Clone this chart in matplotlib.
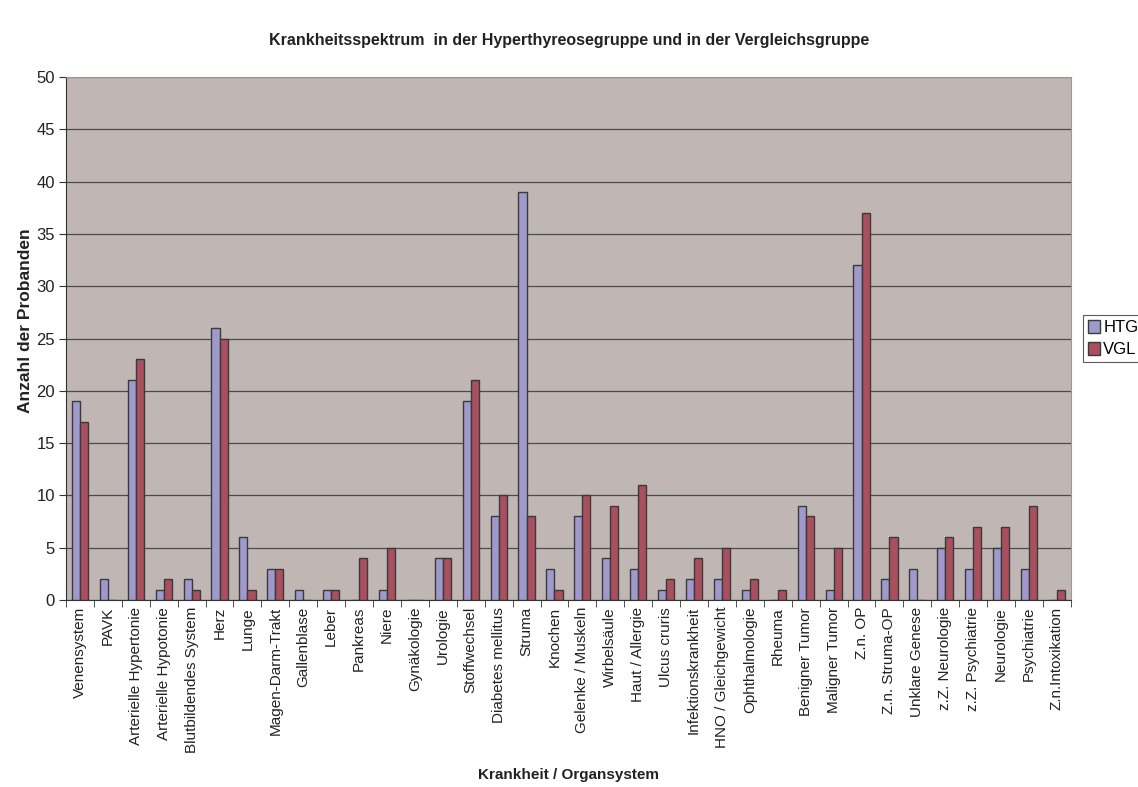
import numpy as np
import matplotlib
matplotlib.use("Agg")
import matplotlib.pyplot as plt

plt.rcParams["font.family"] = ["Liberation Sans", "DejaVu Sans"]

categories = ["Venensystem", "PAVK", "Arterielle Hypertonie", "Arterielle Hypotonie",
              "Blutbildendes System", "Herz", "Lunge", "Magen-Darm-Trakt", "Gallenblase",
              "Leber", "Pankreas", "Niere", "Gynäkologie", "Urologie", "Stoffwechsel",
              "Diabetes mellitus", "Struma", "Knochen", "Gelenke / Muskeln", "Wirbelsäule",
              "Haut / Allergie", "Ulcus cruris", "Infektionskrankheit", "HNO / Gleichgewicht",
              "Ophthalmologie", "Rheuma", "Benigner Tumor", "Maligner Tumor", "Z.n. OP",
              "Z.n. Struma-OP", "Unklare Genese", "z.Z. Neurologie", "z.Z. Psychiatrie",
              "Neurologie", "Psychiatrie", "Z.n.Intoxikation"]
htg = [19, 2, 21, 1, 2, 26, 6, 3, 1, 1, 0, 1, 0, 4, 19, 8, 39, 3, 8, 4, 3, 1, 2, 2, 1, 0,
       9, 1, 32, 2, 3, 5, 3, 5, 3, 0]
vgl = [17, 0, 23, 2, 1, 25, 1, 3, 0, 1, 4, 5, 0, 4, 21, 10, 8, 1, 10, 9, 11, 2, 4, 5, 2, 1,
       8, 5, 37, 6, 0, 6, 7, 7, 9, 1]

fig = plt.figure(figsize=(11.38, 7.87), dpi=100)
ax = fig.add_axes([0.058, 0.2376, 0.883, 0.6645])
ax.set_facecolor("#C0B7B4")

x = np.arange(len(categories))
w = 0.29
ax.bar(x - w / 2, htg, w, color="#9F99CC", edgecolor="#3a3a3a", linewidth=1, label="HTG", zorder=3)
ax.bar(x + w / 2, vgl, w, color="#A94F5E", edgecolor="#3a3a3a", linewidth=1, label="VGL", zorder=3)

ax.set_xlim(-0.5, len(categories) - 0.5)
ax.set_ylim(0, 50)
ax.set_yticks(range(0, 51, 5))
ax.yaxis.grid(True, color="#4a4a4a", linewidth=0.9, zorder=1)
ax.set_axisbelow(True)

ax.set_xticks(x)
ax.set_xticklabels(categories, rotation=90, fontsize=11, color="#222222")
ax.set_xticks(np.arange(-0.5, len(categories)), minor=True)
ax.tick_params(axis="x", which="major", length=0, pad=5)
ax.tick_params(axis="x", which="minor", length=5, color="#333333")
ax.tick_params(axis="y", length=5, labelsize=12, color="#333333", labelcolor="#222222", pad=3)

for s in ["top", "right"]:
    ax.spines[s].set_color("#999999")
for s in ["left", "bottom"]:
    ax.spines[s].set_color("#333333")

ax.set_xlabel("Krankheit / Organsystem", fontsize=11, fontweight="bold", color="#222222")
ax.xaxis.set_label_coords(0.5, -0.321)
ax.set_ylabel("Anzahl der Probanden", fontsize=12.5, fontweight="bold", color="#222222")
ax.yaxis.set_label_coords(-0.033, 0.535)
fig.suptitle("Krankheitsspektrum  in der Hyperthyreosegruppe und in der Vergleichsgruppe",
             fontsize=11.5, fontweight="bold", color="#222222", y=0.949, va="center")

leg = ax.legend(loc="center left", bbox_to_anchor=(1.0125, 0.5), frameon=True, fancybox=False,
                fontsize=12, handlelength=0.7, handleheight=0.8, handletextpad=0.2,
                borderpad=0.3, borderaxespad=0, labelspacing=0.4)
leg.get_frame().set_edgecolor("#333333")
leg.get_frame().set_linewidth(0.8)

fig.savefig("out.png", dpi=100)
